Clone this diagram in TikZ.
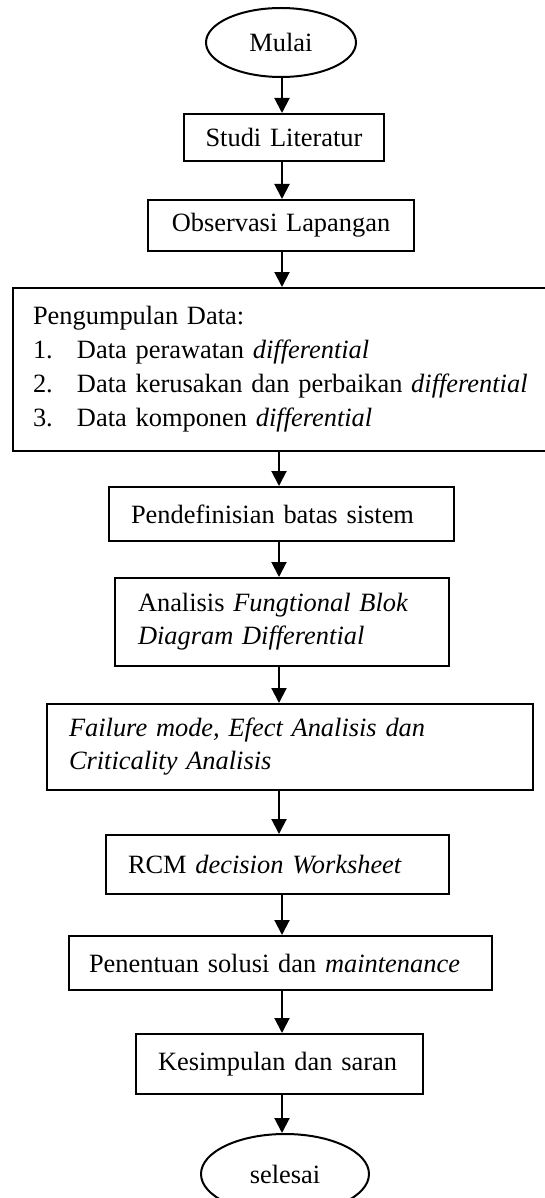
\documentclass[tikz,border=0pt]{standalone}
\usepackage{fontspec}
\setmainfont{Liberation Serif}
\usetikzlibrary{shapes.geometric,arrows.meta}
\begin{document}
\begin{tikzpicture}[x=1pt,y=-1pt,
  font=\fontsize{26.4}{33}\selectfont,
  box/.style={draw,line width=2pt,rectangle,inner ysep=0pt,anchor=north west},
  oval/.style={draw,line width=2pt,ellipse,inner sep=0pt},
  arr/.style={line width=2pt,-{Triangle[length=15pt,width=15pt]}}]
\useasboundingbox (0,0) rectangle (545,1198);
\clip (0,0) rectangle (545,1198);
\node[oval,minimum width=150pt,minimum height=69pt] (mulai) at (281,42.5) {Mulai};
\node[box,minimum width=200pt,minimum height=47pt,inner xsep=10pt,text width=180pt,align=center] (studi) at (183,113) {Studi Literatur};
\node[box,minimum width=266pt,minimum height=51pt,inner xsep=10pt,text width=246pt,align=center] (obs) at (147,199) {Observasi Lapangan};
\node[box,minimum width=560pt,minimum height=163pt,inner xsep=20pt,text width=520pt,align=left] (peng) at (12,287) {Pengumpulan Data:\\[1pt]
\makebox[44pt][l]{1.}Data perawatan \textit{differential}\\[1pt]
\makebox[44pt][l]{2.}Data kerusakan dan perbaikan \textit{differential}\\[1pt]
\makebox[44pt][l]{3.}Data komponen \textit{differential}};
\node[box,minimum width=345pt,minimum height=54pt,inner xsep=22pt,text width=301pt,align=left] (pend) at (108,486) {Pendefinisian batas sistem};
\node[box,minimum width=334pt,minimum height=88pt,inner xsep=23pt,text width=288pt,align=left] (anal) at (114,577) {Analisis \textit{Fungtional Blok}\\\textit{Diagram Differential}};
\node[box,minimum width=486pt,minimum height=86pt,inner xsep=22pt,text width=442pt,align=left] (fail) at (46,703) {\textit{Failure mode, Efect Analisis dan}\\\textit{Criticality Analisis}};
\node[box,minimum width=343pt,minimum height=59pt,inner xsep=22pt,text width=299pt,align=left] (rcm) at (105,834) {RCM \textit{decision Worksheet}};
\node[box,minimum width=423pt,minimum height=54pt,inner xsep=20pt,text width=383pt,align=left] (pen) at (68,935) {Penentuan solusi dan \textit{maintenance}};
\node[box,minimum width=287pt,minimum height=60pt,inner xsep=22pt,text width=243pt,align=left] (kes) at (135,1033) {Kesimpulan dan saran};
\node[oval,minimum width=168pt,minimum height=80pt] (sel) at (285,1174) {selesai};
\coordinate (xa) at (282,0);
\coordinate (xb) at (279,0);
\draw[arr] (mulai.south -| xa) -- (studi.north -| xa);
\draw[arr] (studi.south -| xa) -- (obs.north -| xa);
\draw[arr] (obs.south -| xa) -- (peng.north -| xa);
\draw[arr] (peng.south -| xb) -- (pend.north -| xb);
\draw[arr] (pend.south -| xb) -- (anal.north -| xb);
\draw[arr] (anal.south -| xb) -- (fail.north -| xb);
\draw[arr] (fail.south -| xb) -- (rcm.north -| xb);
\draw[arr] (rcm.south -| xa) -- (pen.north -| xa);
\draw[arr] (pen.south -| xa) -- (kes.north -| xa);
\draw[arr] (kes.south -| xa) -- (sel.north -| xa);
\end{tikzpicture}
\end{document}
